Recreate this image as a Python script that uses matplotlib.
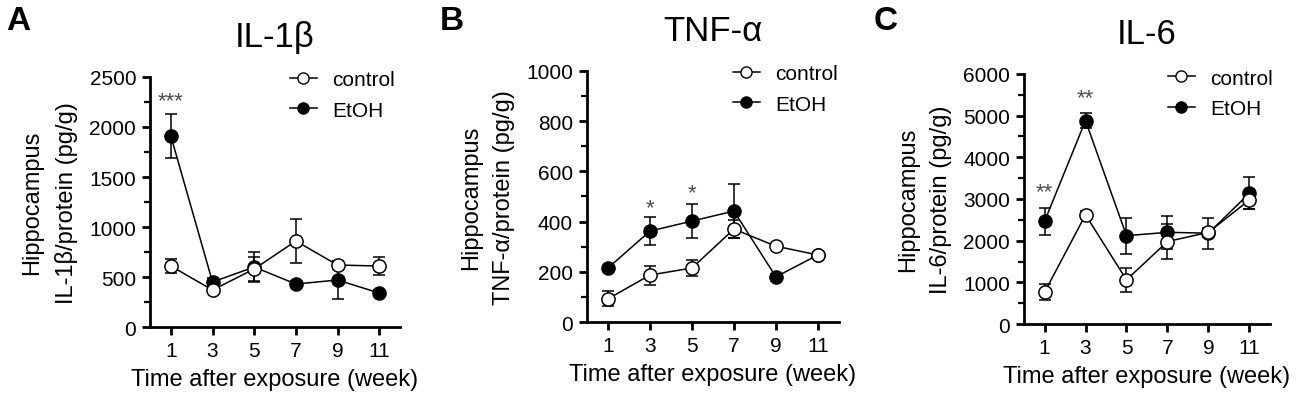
import matplotlib
matplotlib.use("Agg")
import matplotlib.pyplot as plt
from matplotlib.ticker import MultipleLocator
from matplotlib.lines import Line2D

plt.rcParams['font.family'] = ['Liberation Sans', 'DejaVu Sans']

weeks = [1, 3, 5, 7, 9, 11]

# Panel A: IL-1beta
il1b_ctrl = [610, 370, 580, 860, 620, 610]
il1b_ctrl_err = [70, 30, 120, 220, 40, 90]
il1b_etoh = [1910, 450, 600, 430, 470, 340]
il1b_etoh_err = [220, 40, 150, 30, 190, 30]

# Panel B: TNF-alpha
tnf_ctrl = [92, 187, 215, 370, 302, 267]
tnf_ctrl_err = [30, 38, 32, 35, 10, 10]
tnf_etoh = [215, 362, 402, 442, 180, 267]
tnf_etoh_err = [10, 57, 68, 107, 10, 10]

# Panel C: IL-6
il6_ctrl = [760, 2620, 1060, 1980, 2200, 2980]
il6_ctrl_err = [190, 80, 280, 420, 100, 220]
il6_etoh = [2460, 4880, 2120, 2200, 2180, 3140]
il6_etoh_err = [320, 180, 430, 400, 370, 380]

titles = ['IL-1β', 'TNF-α', 'IL-6']
panel_letters = ['A', 'B', 'C']
ylabels = ['Hippocampus\nIL-1β/protein (pg/g)',
           'Hippocampus\nTNF-α/protein (pg/g)',
           'Hippocampus\nIL-6/protein (pg/g)']
ymax = [2500, 1000, 6000]
ymajor = [500, 200, 1000]
stars = [[(1, 2260, '***')], [(3, 455, '*'), (5, 515, '*')], [(1, 3180, '**'), (3, 5420, '**')]]

data = [(il1b_ctrl, il1b_ctrl_err, il1b_etoh, il1b_etoh_err),
        (tnf_ctrl, tnf_ctrl_err, tnf_etoh, tnf_etoh_err),
        (il6_ctrl, il6_ctrl_err, il6_etoh, il6_etoh_err)]

fig = plt.figure(figsize=(13, 4.02), dpi=100)
axpos = [[0.1154, 0.184, 0.1923, 0.622],
         [0.4515, 0.1965, 0.1938, 0.6245],
         [0.7877, 0.1915, 0.1892, 0.622]]
letter_x = [0.005, 0.338, 0.672]
leg_anchor = [(1.012, 1.06), (1.028, 1.06), (1.045, 1.055)]

for i in range(3):
    ax = fig.add_axes(axpos[i])
    c, ce, e, ee = data[i]
    ax.errorbar(weeks, e, yerr=ee, color='black', marker='o', ms=9.5,
                mfc='black', mec='black', lw=1.1, capsize=4.5, elinewidth=1.1,
                capthick=1.1, zorder=3)
    ax.errorbar(weeks, c, yerr=ce, color='black', marker='o', ms=9.5,
                mfc='white', mec='black', mew=1.1, lw=1.1, capsize=4.5, elinewidth=1.1,
                capthick=1.1, zorder=4)
    ax.set_xlim(0, 12)
    ax.set_ylim(0, ymax[i])
    ax.set_xticks(weeks)
    ax.yaxis.set_major_locator(MultipleLocator(ymajor[i]))
    ax.yaxis.set_minor_locator(MultipleLocator(ymajor[i] / 2))
    for s in ['top', 'right']:
        ax.spines[s].set_visible(False)
    for s in ['left', 'bottom']:
        ax.spines[s].set_linewidth(2)
    ax.tick_params(which='major', direction='out', length=6, width=2, labelsize=15, pad=4)
    ax.tick_params(which='minor', direction='out', length=4, width=1.6)
    ax.set_xlabel('Time after exposure (week)', fontsize=17, labelpad=6)
    ax.set_ylabel(ylabels[i], fontsize=17, labelpad=8, linespacing=1.65)
    ax.set_title(titles[i], fontsize=25, pad=22)
    for (x, y, t) in stars[i]:
        ax.text(x, y, t, ha='center', va='center', fontsize=16, color='#4d4d4d')
    hc = Line2D([], [], color='black', marker='o', ms=8, mfc='white', mec='black', lw=1.1)
    he = Line2D([], [], color='black', marker='o', ms=8, mfc='black', mec='black', lw=1.1)
    ax.legend([hc, he], ['control', 'EtOH'], loc='upper right', frameon=False,
              fontsize=15, bbox_to_anchor=leg_anchor[i], handlelength=1.3,
              handletextpad=0.72, labelspacing=0.55, borderaxespad=0.0)
    fig.text(letter_x[i], 0.985, panel_letters[i], fontsize=24, fontweight='bold',
             ha='left', va='top')

fig.savefig('out.png', dpi=100)
